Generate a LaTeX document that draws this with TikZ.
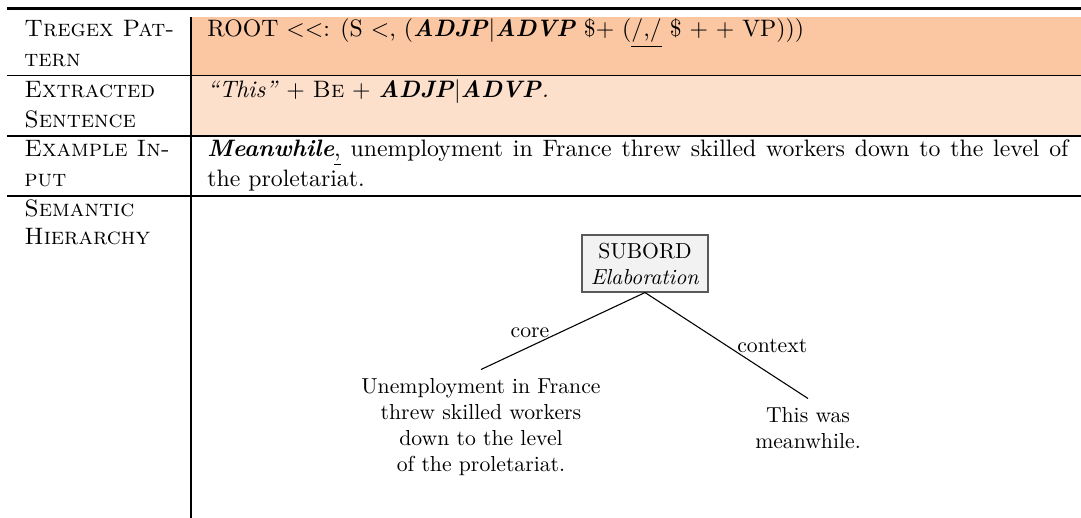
\documentclass[tikz,border=0pt]{standalone}
\usepackage{xcolor}
\newdimen\pxu \pxu=0.4608pt
\definecolor{rowA}{RGB}{251,199,163}
\definecolor{rowB}{RGB}{252,224,204}
\definecolor{boxfill}{RGB}{242,242,242}
\newcommand{\bi}[1]{\textbf{\textit{#1}}}
\begin{document}
\begin{tikzpicture}[x=0.4608pt,y=-0.4608pt,
  celltext/.style={anchor=base west, inner sep=0pt, font=\fontsize{10.95}{13.6}\selectfont},
  toprulestyle/.style={line width=1.3pt},
  thinrule/.style={line width=0.8pt},
  thickrule/.style={line width=1.1pt},
  subordbox/.style={draw=black!65, line width=0.5pt, fill=boxfill, align=center,
    minimum width=126\pxu, minimum height=57\pxu, inner sep=3pt},
  leaf/.style={align=center, inner xsep=0pt, inner ysep=3.9pt, anchor=north},
  edge/.style={line width=0.5pt},
  edgelabel/.style={inner sep=0pt}]
\useasboundingbox (0,0) rectangle (1081,518);
% row fills
\fill[rowA] (191,17) rectangle (1081,75.5);
\fill[rowB] (191,75.5) rectangle (1081,135.7);
% rules
\draw[toprulestyle] (7,8.7) -- (1081,8.7);
\draw[thinrule] (7,75.5) -- (1081,75.5);
\draw[thickrule] (7,135.7) -- (1081,135.7);
\draw[thickrule] (7,195.7) -- (1081,195.7);
\draw[thinrule] (191,17) -- (191,518);
% first column
\node[celltext] (h1a) at (24,37) {\textsc{Tregex Pat-}};
\node[celltext] (h1b) at (24,67) {\textsc{tern}};
\node[celltext] (h2a) at (24,98) {\textsc{Extracted}};
\node[celltext] (h2b) at (24,128) {\textsc{Sentence}};
\node[celltext] (h3a) at (24,157) {\textsc{Example In-}};
\node[celltext] (h3b) at (24,187) {\textsc{put}};
\node[celltext] (h4a) at (24,217) {\textsc{Semantic}};
\node[celltext] (h4b) at (24,245) {\textsc{Hierarchy}};
% second column
\node[celltext] (c1) at (207,37) {ROOT $<<$: (S $<$, (\bi{ADJP}$|$\bi{ADVP} \$+ (\underline{/,/} \$ + + VP)))};
\node[celltext] (c2) at (207,98) {\textit{``This''} + \textsc{Be} + \bi{ADJP}$|$\bi{ADVP}\textit{.}};
\node[celltext] (c3a) at (207,157) {\makebox[861\pxu][s]{\bi{Meanwhile}\underline{,} unemployment in France threw skilled workers down to the level of}};
\node[celltext] (c3b) at (207,187) {the proletariat.};
% tree
\node[subordbox] (sub) at (645,263.5) {SUBORD\\\textit{Elaboration}};
\node[leaf] (coreleaf) at (481,369.5) {Unemployment in France\\threw skilled workers\\down to the level\\of the proletariat.};
\node[leaf] (ctxleaf) at (808,398.5) {This was\\meanwhile.};
\draw[edge] (sub.south) -- node[edgelabel, pos=0.58, anchor=base east] {core} (coreleaf.north);
\draw[edge] (sub.south) -- node[edgelabel, pos=0.563, anchor=base west] {context} (ctxleaf.north);
\end{tikzpicture}
\end{document}
